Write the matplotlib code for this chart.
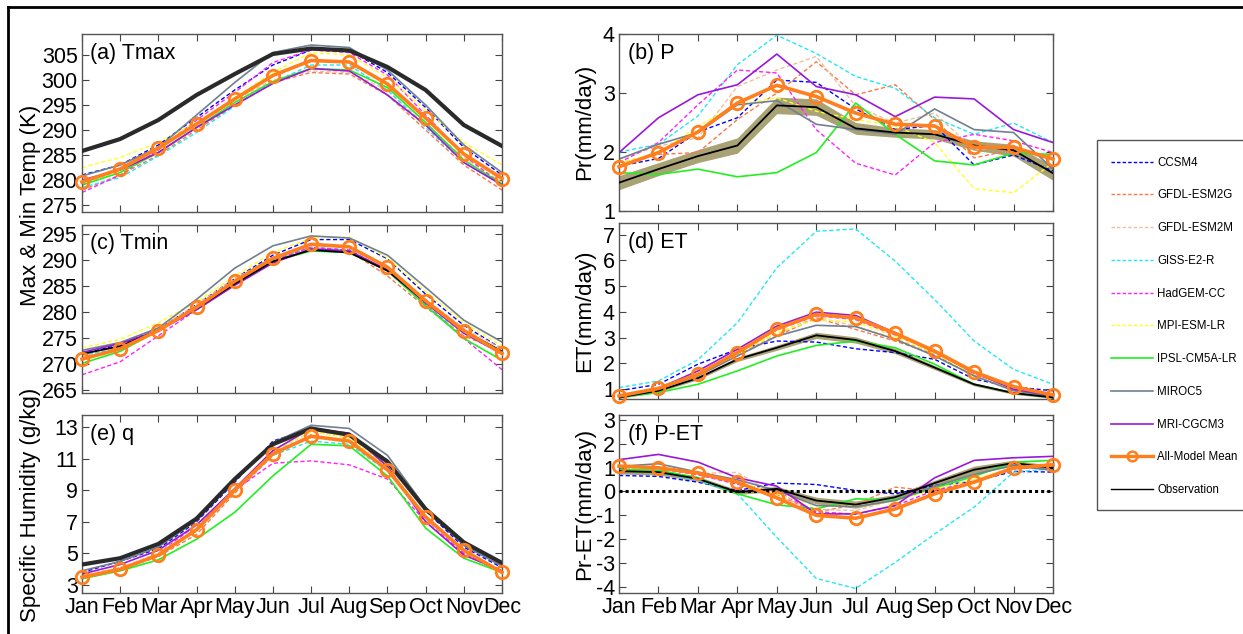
import matplotlib
matplotlib.use("Agg")
import matplotlib.pyplot as plt
from matplotlib.lines import Line2D
from matplotlib.patches import Rectangle
import numpy as np

plt.rcParams["font.family"] = ["Liberation Sans", "DejaVu Sans"]
plt.rcParams["axes.unicode_minus"] = False

months = ["Jan", "Feb", "Mar", "Apr", "May", "Jun", "Jul", "Aug", "Sep", "Oct", "Nov", "Dec"]
models = ["CCSM4", "GFDL-ESM2G", "GFDL-ESM2M", "GISS-E2-R", "HadGEM-CC",
          "MPI-ESM-LR", "IPSL-CM5A-LR", "MIROC5", "MRI-CGCM3"]
model_colors = ["#0000ff", "#f9794a", "#f2bf9c", "#22e8f4", "#ff22ff",
                "#ffff22", "#22ee22", "#708090", "#9a18d8"]
model_dashed = [True, True, True, True, True, True, False, False, False]

# ---------------- (a) Tmax ----------------
tmax_models = [
    [281, 283, 287, 292.5, 298, 303, 306, 306, 301.5, 294.5, 286.5, 281],
    [278, 281, 285, 290, 295, 299.5, 301.5, 301.2, 297, 290, 283, 278],
    [279, 282, 286, 291, 296, 300, 301.8, 301.5, 298, 291, 284.5, 279.5],
    [278.5, 280.5, 284.8, 289.5, 294.8, 299.5, 303, 303, 298, 290.5, 283.5, 279],
    [277.5, 281, 286, 292, 297.5, 303.5, 306, 305.5, 301, 293, 285, 279],
    [282.5, 284.5, 287.5, 291.5, 296.5, 301.5, 305.5, 305, 300.5, 294, 287.5, 283],
    [279, 281.5, 285.5, 290.5, 295.5, 299.7, 302.3, 302, 298.5, 291.5, 284, 279.2],
    [280.8, 283, 286.5, 293, 299.5, 305.5, 307, 306.5, 302, 295, 287, 281.5],
    [280, 282, 285.5, 290.5, 295, 299.3, 302.3, 301.8, 297, 291, 283.5, 279],
]
tmax_mean = [279.6, 282.2, 286.4, 291.2, 296.2, 300.9, 303.9, 303.6, 299.2, 292.4, 285.2, 280.3]
tmax_obs = [285.8, 288.2, 292, 297, 301.2, 305.2, 306.3, 305.9, 302.6, 298, 291, 286.8]

# ---------------- (c) Tmin ----------------
tmin_models = [
    [272, 273.8, 276.8, 281.5, 286.5, 291, 294, 294, 290.3, 283.5, 277.5, 273],
    [271.5, 273, 276.5, 281, 285.8, 290, 292.5, 291.8, 287, 281, 275.5, 272.5],
    [271.5, 273.2, 277, 281.5, 286.5, 290.5, 293, 292.5, 288.5, 282.5, 277, 273],
    [271.8, 273, 276.5, 281, 285.8, 290, 292.5, 292, 288, 281.2, 276, 272],
    [268, 270.5, 275.5, 280.5, 285.5, 290, 292.5, 292, 288, 281.5, 275, 269],
    [273.2, 274.8, 278, 282, 287, 291.5, 294.3, 294.5, 290.5, 284, 278, 273.5],
    [270.2, 272.5, 276.5, 281, 285.5, 289.8, 291.8, 291.5, 288, 281.3, 275, 270.8],
    [272.7, 274.2, 277, 282.5, 288.5, 292.8, 294.7, 294.3, 291, 284.8, 278.5, 274.3],
    [272.3, 274, 276.5, 280.5, 285.2, 289.5, 292.2, 291.8, 288.2, 281.8, 276, 272],
]
tmin_mean = [271.0, 273.0, 276.5, 281.0, 286.0, 290.4, 293.1, 292.6, 288.7, 282.2, 276.5, 272.1]
tmin_obs = [272, 273.5, 276.5, 280.8, 285.5, 289.8, 292, 291.5, 288, 282, 276.5, 272.5]

# ---------------- (e) q ----------------
q_models = [
    [3.8, 4.5, 5.3, 7.0, 9.5, 12.1, 12.9, 12.5, 10.9, 7.7, 5.4, 4.1],
    [3.5, 4.0, 4.8, 6.2, 8.8, 11.2, 12.5, 12.1, 10.3, 7.2, 5.0, 3.8],
    [3.5, 4.0, 4.9, 6.4, 9.0, 11.4, 12.7, 12.3, 10.5, 7.4, 5.1, 3.9],
    [3.5, 4.0, 4.8, 6.5, 9.0, 11.2, 12.1, 11.9, 10.2, 7.2, 5.1, 3.8],
    [3.6, 4.1, 5.0, 6.8, 9.0, 10.7, 10.85, 10.6, 9.7, 7.0, 5.0, 3.8],
    [3.6, 4.1, 5.0, 6.6, 9.1, 11.5, 12.7, 12.3, 10.4, 7.3, 5.2, 3.9],
    [3.4, 3.9, 4.6, 5.9, 7.6, 9.9, 11.9, 11.8, 9.9, 6.6, 4.7, 3.8],
    [3.9, 4.5, 5.4, 7.1, 9.6, 12.0, 13.1, 12.9, 11.2, 7.9, 5.5, 4.2],
    [3.7, 4.3, 5.2, 6.8, 9.1, 11.5, 12.9, 12.6, 10.5, 7.0, 4.9, 3.9],
]
q_mean = [3.5, 4.0, 4.9, 6.5, 9.0, 11.3, 12.4, 12.1, 10.3, 7.3, 5.2, 3.8]
q_obs = [4.3, 4.7, 5.6, 7.2, 9.7, 11.9, 12.9, 12.5, 10.8, 7.8, 5.7, 4.4]

# ---------------- (b) P ----------------
p_models = [
    [1.76, 1.89, 2.34, 2.58, 3.22, 3.18, 2.73, 2.38, 2.45, 1.78, 1.95, 1.68],
    [1.82, 1.96, 1.99, 2.55, 3.0, 3.53, 2.97, 3.14, 2.55, 1.9, 2.04, 1.9],
    [1.88, 2.1, 2.24, 3.11, 3.39, 3.62, 2.78, 2.49, 2.66, 2.04, 2.1, 1.82],
    [2.0, 2.13, 2.61, 3.48, 3.98, 3.67, 3.28, 3.08, 2.58, 2.30, 2.49, 2.16],
    [1.82, 2.16, 2.80, 3.39, 3.34, 2.38, 1.81, 1.61, 2.16, 2.30, 2.19, 1.99],
    [1.82, 1.98, 2.44, 2.80, 2.92, 2.69, 2.55, 2.44, 2.16, 1.38, 1.31, 1.82],
    [1.65, 1.62, 1.71, 1.58, 1.65, 1.99, 2.83, 2.30, 1.85, 1.78, 1.98, 1.96],
    [1.88, 2.13, 2.33, 2.80, 2.87, 2.47, 2.38, 2.30, 2.73, 2.38, 2.33, 1.71],
    [1.99, 2.58, 2.97, 3.14, 3.66, 3.11, 2.97, 2.60, 2.93, 2.90, 2.38, 2.16],
]
p_mean = [1.75, 1.99, 2.34, 2.83, 3.13, 2.94, 2.66, 2.47, 2.44, 2.08, 2.08, 1.88]
p_obs = [1.48, 1.71, 1.93, 2.11, 2.79, 2.76, 2.40, 2.33, 2.30, 2.11, 2.03, 1.64]
p_obs_err = [0.12, 0.11, 0.11, 0.13, 0.14, 0.14, 0.1, 0.08, 0.08, 0.08, 0.1, 0.12]

# ---------------- (d) ET ----------------
et_models = [
    [0.94, 1.19, 1.97, 2.55, 2.87, 2.83, 2.57, 2.42, 2.16, 1.39, 1.09, 0.94],
    [0.72, 1.0, 1.52, 2.35, 3.06, 3.77, 3.32, 2.87, 2.35, 1.52, 1.0, 0.74],
    [0.72, 1.0, 1.55, 2.38, 3.15, 3.8, 3.45, 2.95, 2.4, 1.55, 1.0, 0.75],
    [1.06, 1.32, 2.14, 3.58, 5.71, 7.13, 7.22, 5.97, 4.48, 2.87, 1.77, 1.19],
    [0.75, 1.05, 1.6, 2.45, 3.3, 3.85, 3.7, 3.1, 2.45, 1.6, 1.05, 0.8],
    [0.75, 1.0, 1.5, 2.35, 3.2, 3.7, 3.6, 3.05, 2.4, 1.55, 1.0, 0.75],
    [0.68, 0.87, 1.19, 1.71, 2.29, 2.70, 2.87, 2.61, 1.97, 1.19, 0.85, 0.68],
    [0.72, 1.0, 1.52, 2.29, 3.06, 3.48, 3.43, 2.94, 2.29, 1.52, 0.94, 0.72],
    [0.72, 1.03, 1.71, 2.55, 3.45, 3.99, 3.86, 3.19, 2.44, 1.65, 1.0, 0.74],
]
et_mean = [0.74, 1.03, 1.58, 2.42, 3.35, 3.9, 3.77, 3.17, 2.48, 1.67, 1.1, 0.78]
et_obs = [0.68, 0.94, 1.43, 2.16, 2.61, 3.09, 2.91, 2.48, 1.84, 1.19, 0.85, 0.68]
et_obs_err = [0.04, 0.05, 0.06, 0.08, 0.1, 0.12, 0.12, 0.1, 0.08, 0.06, 0.05, 0.04]

# ---------------- (f) P-ET ----------------
pet_models = [
    [0.67, 0.63, 0.39, 0.04, 0.35, 0.29, 0.04, -0.1, 0.25, 0.42, 0.84, 0.81],
    [1.02, 1.02, 0.71, 0.32, -0.13, -0.87, -0.55, 0.18, 0.01, 0.39, 0.95, 1.02],
    [1.05, 1.0, 0.75, 0.8, -0.2, -0.75, -0.8, -0.35, 0.1, 0.45, 1.0, 1.05],
    [0.91, 0.81, 0.46, -0.1, -1.92, -3.64, -4.06, -2.97, -1.78, -0.66, 0.81, 0.95],
    [1.0, 0.95, 0.7, 0.3, 0.0, -0.85, -0.95, -0.6, 0.05, 0.4, 0.95, 1.05],
    [1.0, 0.95, 0.75, 0.4, -0.1, -0.6, -0.6, -0.4, 0.1, 0.5, 1.0, 1.1],
    [0.91, 0.88, 0.57, -0.1, -0.56, -0.73, -0.31, -0.35, 0.15, 0.63, 1.23, 1.30],
    [1.05, 1.16, 0.81, 0.49, 0.04, -0.59, -0.63, -0.38, 0.21, 0.71, 1.09, 0.88],
    [1.33, 1.55, 1.23, 0.57, 0.22, -0.94, -0.94, -0.59, 0.57, 1.30, 1.41, 1.47],
]
pet_mean = [1.06, 0.99, 0.77, 0.39, -0.27, -1.0, -1.12, -0.73, -0.1, 0.39, 0.98, 1.12]
pet_obs = [0.85, 0.81, 0.53, -0.03, 0.11, -0.38, -0.55, -0.24, 0.35, 0.91, 1.19, 0.98]
pet_obs_err = [0.12, 0.12, 0.1, 0.1, 0.1, 0.14, 0.15, 0.12, 0.12, 0.15, 0.12, 0.1]

MEAN_COLOR = "#ff7f1e"
BAND_COLOR = "#a9a274"
x = np.arange(1, 13)

fig = plt.figure(figsize=(12.43, 6.34), dpi=100)
W, H = 1243.0, 634.0


def make_ax(left, top, right, bottom):
    return fig.add_axes([left / W, 1 - bottom / H, (right - left) / W, (bottom - top) / H])


def draw_panel(ax, mdata, mean, obs, obs_err, title, ylim, yticks, xlabels, thick_obs):
    if obs_err is not None:
        lo = np.array(obs) - np.array(obs_err)
        hi = np.array(obs) + np.array(obs_err)
        ax.fill_between(x, lo, hi, color=BAND_COLOR, lw=0, zorder=1)
    for vals, c, d in zip(mdata, model_colors, model_dashed):
        if d:
            ax.plot(x, vals, color=c, lw=1.0, dashes=(3, 1.8), zorder=2)
        else:
            ax.plot(x, vals, color=c, lw=1.2, zorder=2)
    if thick_obs:
        ax.plot(x, obs, color="#2a2a2a", lw=3.0, zorder=3)
    else:
        ax.plot(x, obs, color="black", lw=1.3, zorder=3)
    ax.plot(x, mean, color=MEAN_COLOR, lw=2.6, marker="o", ms=9, mfc="none",
            mew=2.0, zorder=5, clip_on=False)
    ax.set_xlim(1, 12)
    ax.set_ylim(*ylim)
    ax.set_yticks(yticks)
    ax.set_xticks(x)
    if xlabels:
        ax.set_xticklabels(months)
    else:
        ax.set_xticklabels([])
    ax.tick_params(direction="in", top=True, right=True, labelsize=15.5,
                   length=5, width=0.8, color="#444444", pad=3)
    for s in ax.spines.values():
        s.set_color("#555555")
        s.set_linewidth(1.0)
    ax.text(0.02, 0.95, title, transform=ax.transAxes, fontsize=15.5,
            va="top", ha="left")


ax_a = make_ax(82, 34, 502, 212)
draw_panel(ax_a, tmax_models, tmax_mean, tmax_obs, None, "(a) Tmax",
           (273.6, 309.2), range(275, 306, 5), False, True)
ax_c = make_ax(82, 225, 502, 393)
draw_panel(ax_c, tmin_models, tmin_mean, tmin_obs, None, "(c) Tmin",
           (264.5, 296.8), range(265, 296, 5), False, False)
ax_e = make_ax(82, 415, 502, 593)
draw_panel(ax_e, q_models, q_mean, q_obs, None, "(e) q",
           (2.5, 13.75), range(3, 14, 2), True, True)

ax_b = make_ax(619, 34, 1053, 211)
draw_panel(ax_b, p_models, p_mean, p_obs, p_obs_err, "(b) P",
           (1, 4), range(1, 5), False, False)
ax_d = make_ax(619, 223, 1053, 399)
draw_panel(ax_d, et_models, et_mean, et_obs, et_obs_err, "(d) ET",
           (0.62, 7.45), range(1, 8), False, False)
ax_f = make_ax(619, 415, 1053, 593)
draw_panel(ax_f, pet_models, pet_mean, pet_obs, pet_obs_err, "(f) P-ET",
           (-4.25, 3.2), range(-4, 4), True, False)
ax_f.axhline(0, color="black", lw=2.2, ls=(0, (1, 1)), zorder=4)

fig.text(31 / W, 1 - 205 / H, "Max & Min Temp (K)", rotation=90, fontsize=16,
         ha="center", va="center")
fig.text(31 / W, 1 - 505 / H, "Specific Humidity (g/kg)", rotation=90, fontsize=16,
         ha="center", va="center")
fig.text(585 / W, 1 - 122 / H, "Pr(mm/day)", rotation=90, fontsize=16,
         ha="center", va="center")
fig.text(585 / W, 1 - 311 / H, "ET(mm/day)", rotation=90, fontsize=16,
         ha="center", va="center")
fig.text(585 / W, 1 - 504 / H, "Pr-ET(mm/day)", rotation=90, fontsize=16,
         ha="center", va="center")

# legend (box runs past the right edge, as in the cropped original)
handles = []
for name, c, d in zip(models, model_colors, model_dashed):
    if d:
        handles.append(Line2D([], [], color=c, lw=1.0, dashes=(2.5, 1.5), label=name))
    else:
        handles.append(Line2D([], [], color=c, lw=1.2, label=name))
handles.append(Line2D([], [], color=MEAN_COLOR, lw=2.4, marker="o", ms=7,
                      mfc="none", mew=1.8, label="All-Model Mean"))
handles.append(Line2D([], [], color="black", lw=1.0, label="Observation"))
leg = fig.legend(handles=handles, loc="upper left",
                 bbox_to_anchor=(1094 / W, 1 - 140 / H), fontsize=8.3,
                 frameon=False, handlelength=3.7,
                 handletextpad=0.35, labelspacing=1.8, borderpad=1.45,
                 borderaxespad=0)
fig.add_artist(Rectangle((1097 / W, 1 - 510 / H), 200 / W, 370 / H,
                         transform=fig.transFigure, fill=False,
                         edgecolor="#555555", lw=1.0))

# outer frame (cropped border)
fig.add_artist(Line2D([8 / W, 8 / W], [0, 1 - 7 / H], color="black", lw=2,
                      transform=fig.transFigure))
fig.add_artist(Line2D([8 / W, 1], [1 - 7 / H, 1 - 7 / H], color="black", lw=2,
                      transform=fig.transFigure))

fig.savefig("out.png", dpi=100)
